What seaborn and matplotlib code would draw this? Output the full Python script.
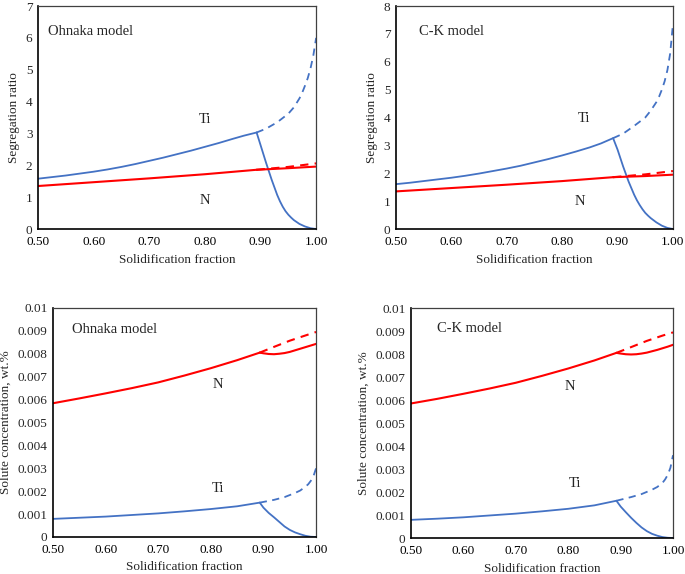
import matplotlib
matplotlib.use("Agg")
import matplotlib.pyplot as plt
import seaborn as sns
import pandas as pd
from matplotlib.ticker import FuncFormatter, MultipleLocator

sns.set_style("white")
plt.rcParams['font.family'] = ['Liberation Serif', 'DejaVu Serif']

BLUE = "#4472C4"
RED = "#FF0000"

# ---------- Segregation ratio, Ohnaka ----------
oh_ti_x = [0.50, 0.525, 0.55, 0.575, 0.60, 0.625, 0.65, 0.675, 0.70, 0.725, 0.75, 0.775, 0.80, 0.825, 0.85, 0.87, 0.893]
oh_ti_y = [1.58, 1.63, 1.68, 1.74, 1.80, 1.87, 1.95, 2.04, 2.14, 2.24, 2.35, 2.46, 2.58, 2.70, 2.83, 2.93, 3.03]
oh_ti_dash_x = [0.893, 0.91, 0.93, 0.95, 0.96, 0.97, 0.975, 0.98, 0.985, 0.99, 0.995, 1.00]
oh_ti_dash_y = [3.03, 3.15, 3.35, 3.62, 3.82, 4.10, 4.28, 4.50, 4.74, 5.05, 5.45, 6.00]
oh_ti_drop_x = [0.893, 0.90, 0.91, 0.92, 0.93, 0.935, 0.94, 0.945, 0.95, 0.955, 0.96, 0.97, 0.98, 0.99, 1.00]
oh_ti_drop_y = [3.03, 2.64, 2.08, 1.55, 1.07, 0.87, 0.70, 0.56, 0.45, 0.36, 0.28, 0.16, 0.08, 0.025, 0.00]
oh_n_x = [0.50, 0.60, 0.70, 0.80, 0.893]
oh_n_y = [1.35, 1.47, 1.59, 1.72, 1.86]
oh_n_after_x = [0.893, 0.95, 1.00]
oh_n_after_y = [1.86, 1.91, 1.96]
oh_n_dash_x = [0.893, 0.95, 1.00]
oh_n_dash_y = [1.86, 1.95, 2.06]

# ---------- Segregation ratio, C-K ----------
ck_ti_x = [0.50, 0.525, 0.55, 0.575, 0.60, 0.625, 0.65, 0.675, 0.70, 0.725, 0.75, 0.775, 0.80, 0.825, 0.85, 0.87, 0.892]
ck_ti_y = [1.61, 1.66, 1.72, 1.78, 1.84, 1.91, 1.99, 2.08, 2.17, 2.27, 2.39, 2.51, 2.64, 2.78, 2.93, 3.07, 3.26]
ck_ti_dash_x = [0.892, 0.91, 0.93, 0.95, 0.96, 0.97, 0.975, 0.98, 0.985, 0.99, 0.995, 1.00]
ck_ti_dash_y = [3.26, 3.42, 3.70, 4.00, 4.25, 4.55, 4.75, 5.00, 5.30, 5.70, 6.30, 7.35]
ck_ti_drop_x = [0.892, 0.90, 0.91, 0.92, 0.93, 0.935, 0.94, 0.945, 0.95, 0.955, 0.96, 0.97, 0.98, 0.99, 1.00]
ck_ti_drop_y = [3.26, 2.85, 2.25, 1.70, 1.23, 1.03, 0.86, 0.71, 0.58, 0.48, 0.39, 0.24, 0.12, 0.04, 0.00]
ck_n_x = [0.50, 0.60, 0.70, 0.80, 0.892]
ck_n_y = [1.35, 1.47, 1.59, 1.72, 1.86]
ck_n_after_x = [0.892, 0.95, 1.00]
ck_n_after_y = [1.86, 1.90, 1.95]
ck_n_dash_x = [0.892, 0.95, 1.00]
ck_n_dash_y = [1.86, 1.96, 2.08]

# ---------- Solute concentration, Ohnaka ----------
oh_cn_x = [0.50, 0.55, 0.60, 0.65, 0.70, 0.75, 0.80, 0.85, 0.893]
oh_cn_y = [0.00584, 0.00605, 0.00627, 0.00650, 0.00675, 0.00705, 0.00737, 0.00772, 0.00805]
oh_cn_after_x = [0.893, 0.90, 0.91, 0.92, 0.93, 0.94, 0.95, 0.96, 0.97, 0.98, 0.99, 1.00]
oh_cn_after_y = [0.00805, 0.00802, 0.00799, 0.00798, 0.00800, 0.00803, 0.00808, 0.00815, 0.00822, 0.00829, 0.00836, 0.00843]
oh_cn_dash_x = [0.893, 0.92, 0.95, 0.98, 1.00]
oh_cn_dash_y = [0.00805, 0.00830, 0.00857, 0.00880, 0.00895]
oh_cti_x = [0.50, 0.55, 0.60, 0.65, 0.70, 0.75, 0.80, 0.85, 0.893]
oh_cti_y = [0.00079, 0.00084, 0.00089, 0.00096, 0.00103, 0.00112, 0.00122, 0.00134, 0.00150]
oh_cti_dash_x = [0.893, 0.92, 0.94, 0.96, 0.97, 0.98, 0.985, 0.99, 0.995, 1.00]
oh_cti_dash_y = [0.00150, 0.00162, 0.00174, 0.00192, 0.00203, 0.00220, 0.00230, 0.00245, 0.00265, 0.00300]
oh_cti_drop_x = [0.893, 0.90, 0.91, 0.92, 0.93, 0.94, 0.95, 0.96, 0.97, 0.98, 0.99, 1.00]
oh_cti_drop_y = [0.00150, 0.00128, 0.00105, 0.00086, 0.00066, 0.00046, 0.00031, 0.00020, 0.00012, 0.00005, 0.00001, 0.0]

# ---------- Solute concentration, C-K ----------
ck_cn_x = [0.50, 0.55, 0.60, 0.65, 0.70, 0.75, 0.80, 0.85, 0.892]
ck_cn_y = [0.00585, 0.00605, 0.00627, 0.00650, 0.00675, 0.00705, 0.00737, 0.00772, 0.00805]
ck_cn_after_x = [0.892, 0.90, 0.91, 0.92, 0.93, 0.94, 0.95, 0.96, 0.97, 0.98, 0.99, 1.00]
ck_cn_after_y = [0.00805, 0.00802, 0.00799, 0.00798, 0.00799, 0.00802, 0.00806, 0.00812, 0.00818, 0.00825, 0.00832, 0.00840]
ck_cn_dash_x = [0.892, 0.92, 0.95, 0.98, 1.00]
ck_cn_dash_y = [0.00805, 0.00830, 0.00857, 0.00880, 0.00894]
ck_cti_x = [0.50, 0.55, 0.60, 0.65, 0.70, 0.75, 0.80, 0.85, 0.892]
ck_cti_y = [0.00079, 0.00084, 0.00090, 0.00098, 0.00106, 0.00116, 0.00127, 0.00142, 0.00162]
ck_cti_dash_x = [0.892, 0.92, 0.94, 0.96, 0.97, 0.98, 0.985, 0.99, 0.995, 1.00]
ck_cti_dash_y = [0.00162, 0.00178, 0.00191, 0.00210, 0.00222, 0.00240, 0.00255, 0.00275, 0.00305, 0.00360]
ck_cti_drop_x = [0.892, 0.90, 0.91, 0.92, 0.93, 0.94, 0.95, 0.96, 0.97, 0.98, 0.99, 1.00]
ck_cti_drop_y = [0.00162, 0.00137, 0.00112, 0.00088, 0.00066, 0.00046, 0.00030, 0.00018, 0.00010, 0.00004, 0.00001, 0.0]

x_ticks = [0.50, 0.60, 0.70, 0.80, 0.90, 1.00]

fig = plt.figure(figsize=(6.85, 5.74), dpi=100)
ax1 = fig.add_axes([0.0555, 0.601, 0.406, 0.3885])
ax2 = fig.add_axes([0.578, 0.601, 0.4044, 0.3885])
ax3 = fig.add_axes([0.0774, 0.0645, 0.384, 0.399])
ax4 = fig.add_axes([0.600, 0.0627, 0.3825, 0.4007])


def line(ax, x, y, color, dashed=False, lw=1.3):
    df = pd.DataFrame({"x": x, "y": y})
    sns.lineplot(data=df, x="x", y="y", ax=ax, color=color, lw=lw,
                 linestyle=(0, (4, 3)) if dashed else "-", estimator=None,
                 sort=False)


def style(ax, ymax, ystep, fmt, ylabel):
    ax.set_xlim(0.5, 1.0)
    ax.set_ylim(0, ymax)
    ax.set_xticks(x_ticks)
    ax.xaxis.set_major_formatter(FuncFormatter(lambda v, p: f"{v:.2f}"))
    ax.yaxis.set_major_locator(MultipleLocator(ystep))
    ax.yaxis.set_major_formatter(FuncFormatter(fmt))
    ax.tick_params(axis="x", direction="in", length=3, width=0.8, pad=5, labelsize=9.5, colors="black")
    ax.tick_params(axis="y", length=0, pad=4, labelsize=9.5)
    ax.set_xlabel("Solidification fraction", fontsize=9.5, labelpad=4)
    ax.set_ylabel(ylabel, fontsize=9.5, labelpad=4)
    for s in ["left", "bottom"]:
        ax.spines[s].set_color("black")
        ax.spines[s].set_linewidth(1.2)
    for s in ["top", "right"]:
        ax.spines[s].set_color("#404040")
        ax.spines[s].set_linewidth(0.9)
        ax.spines[s].set_visible(True)


int_fmt = lambda v, p: f"{v:.0f}"
conc_fmt = lambda v, p: "0" if abs(v) < 1e-12 else (f"{v:.3f}".rstrip("0") if round(v, 3) != 0.01 else "0.01")

# Panel 1
line(ax1, oh_ti_x, oh_ti_y, BLUE)
line(ax1, oh_ti_dash_x, oh_ti_dash_y, BLUE, dashed=True)
line(ax1, oh_ti_drop_x, oh_ti_drop_y, BLUE)
line(ax1, oh_n_x, oh_n_y, RED, lw=1.5)
line(ax1, oh_n_after_x, oh_n_after_y, RED, lw=1.5)
line(ax1, oh_n_dash_x, oh_n_dash_y, RED, dashed=True, lw=1.5)
style(ax1, 7, 1, int_fmt, "Segregation ratio")
ax1.text(0.518, 6.2, "Ohnaka model", fontsize=10.5, va="center")
ax1.text(0.80, 3.45, "Ti", fontsize=10.5, ha="center", va="center")
ax1.text(0.80, 0.9, "N", fontsize=10.5, ha="center", va="center")

# Panel 2
line(ax2, ck_ti_x, ck_ti_y, BLUE)
line(ax2, ck_ti_dash_x, ck_ti_dash_y, BLUE, dashed=True)
line(ax2, ck_ti_drop_x, ck_ti_drop_y, BLUE)
line(ax2, ck_n_x, ck_n_y, RED, lw=1.5)
line(ax2, ck_n_after_x, ck_n_after_y, RED, lw=1.5)
line(ax2, ck_n_dash_x, ck_n_dash_y, RED, dashed=True, lw=1.5)
style(ax2, 8, 1, int_fmt, "Segregation ratio")
ax2.text(0.541, 7.1, "C-K model", fontsize=10.5, va="center")
ax2.text(0.84, 3.98, "Ti", fontsize=10.5, ha="center", va="center")
ax2.text(0.832, 0.97, "N", fontsize=10.5, ha="center", va="center")

# Panel 3
line(ax3, oh_cn_x, oh_cn_y, RED, lw=1.5)
line(ax3, oh_cn_after_x, oh_cn_after_y, RED, lw=1.5)
line(ax3, oh_cn_dash_x, oh_cn_dash_y, RED, dashed=True, lw=1.5)
line(ax3, oh_cti_x, oh_cti_y, BLUE)
line(ax3, oh_cti_dash_x, oh_cti_dash_y, BLUE, dashed=True)
line(ax3, oh_cti_drop_x, oh_cti_drop_y, BLUE)
style(ax3, 0.01, 0.001, conc_fmt, "Solute concentration, wt.%")
ax3.text(0.537, 0.00904, "Ohnaka model", fontsize=10.5, va="center")
ax3.text(0.814, 0.00664, "N", fontsize=10.5, ha="center", va="center")
ax3.text(0.814, 0.0021, "Ti", fontsize=10.5, ha="center", va="center")

# Panel 4
line(ax4, ck_cn_x, ck_cn_y, RED, lw=1.5)
line(ax4, ck_cn_after_x, ck_cn_after_y, RED, lw=1.5)
line(ax4, ck_cn_dash_x, ck_cn_dash_y, RED, dashed=True, lw=1.5)
line(ax4, ck_cti_x, ck_cti_y, BLUE)
line(ax4, ck_cti_dash_x, ck_cti_dash_y, BLUE, dashed=True)
line(ax4, ck_cti_drop_x, ck_cti_drop_y, BLUE)
style(ax4, 0.01, 0.001, conc_fmt, "Solute concentration, wt.%")
ax4.text(0.55, 0.00909, "C-K model", fontsize=10.5, va="center")
ax4.text(0.803, 0.00658, "N", fontsize=10.5, ha="center", va="center")
ax4.text(0.812, 0.00235, "Ti", fontsize=10.5, ha="center", va="center")

fig.savefig("out.png", dpi=100)
